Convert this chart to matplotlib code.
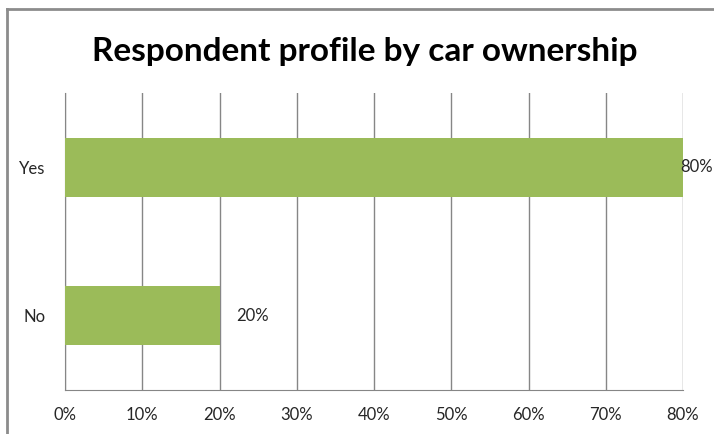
import matplotlib.pyplot as plt
from matplotlib.lines import Line2D

# Car ownership shares
categories = ['No', 'Yes']
shares = [20, 80]
ticks = [0, 10, 20, 30, 40, 50, 60, 70, 80]

plt.rcParams['font.family'] = ['Lato', 'DejaVu Sans']

W, H = 714, 434
fig = plt.figure(figsize=(W / 100, H / 100), dpi=100)
ax = fig.add_axes([65 / W, 1 - 390 / H, (683 - 65) / W, (390 - 93) / H])

ax.barh(categories, shares, height=0.4, color='#9BBB59', zorder=3)
ax.set_xlim(0, 80)
ax.set_ylim(-0.5, 1.5)
ax.set_xticks(ticks)
ax.set_xticklabels([f'{t}%' for t in ticks])
ax.grid(axis='x', color='#868686', linewidth=1, zorder=0)
ax.tick_params(length=0, labelsize=12, colors='#262626')
ax.tick_params(axis='x', pad=12)
ax.tick_params(axis='y', pad=14)

for side in ['top', 'right']:
    ax.spines[side].set_visible(False)
for side in ['left', 'bottom']:
    ax.spines[side].set_color('#868686')

# Value labels next to each bar
offsets = {20: 2.1, 80: -0.3}
for i, v in enumerate(shares):
    ax.text(v + offsets[v], i, f'{v}%', va='center', ha='left',
            fontsize=12, color='#262626', clip_on=False)

fig.text(0.5105, 1 - 51 / H, 'Respondent profile by car ownership',
         ha='center', va='center', fontsize=24, fontweight='bold', color='black')

# Chart frame, left and top edges
fig.add_artist(Line2D([7 / W, 7 / W], [0, 1 - 9 / H], transform=fig.transFigure,
                      color='#8C8C8C', linewidth=2))
fig.add_artist(Line2D([7 / W, 1], [1 - 9 / H, 1 - 9 / H], transform=fig.transFigure,
                      color='#8C8C8C', linewidth=2))

fig.savefig('out.png', dpi=100)
